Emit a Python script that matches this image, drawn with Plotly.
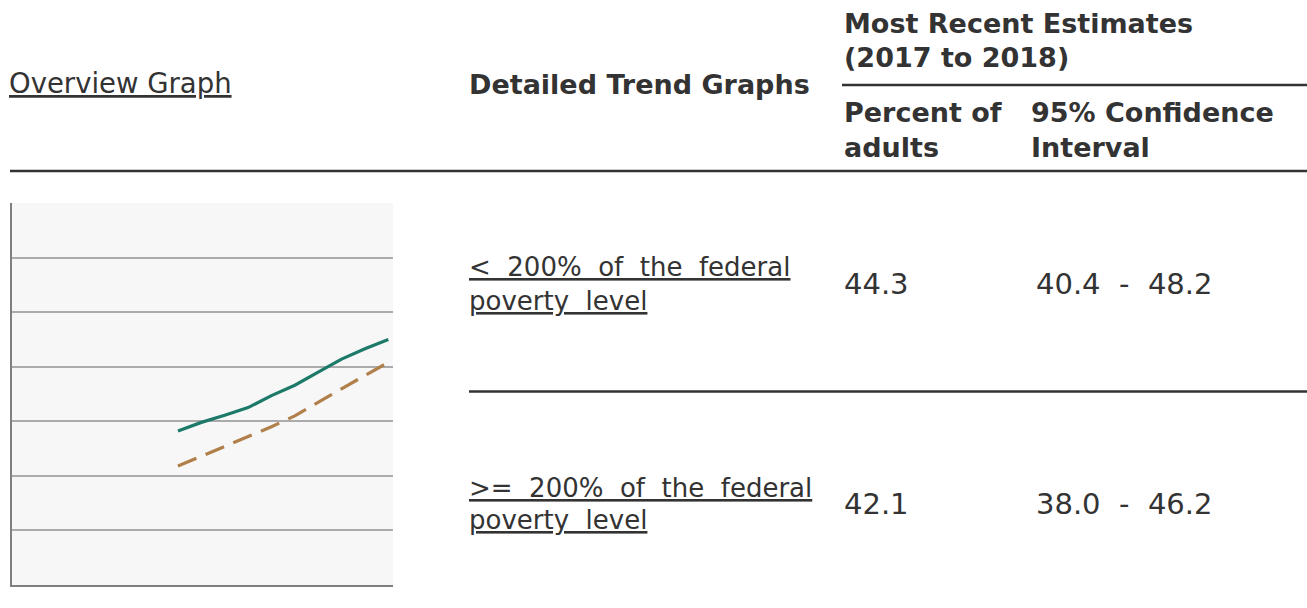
"""poverty-level trend table with a small overview line chart"""

import plotly.graph_objects as go

W, H = 1307, 608

# overview graph data (percent of adults, by year)
YEARS = [2009, 2010, 2011, 2012, 2013, 2014, 2015, 2016, 2017, 2018]
BELOW_200 = [28.2, 29.8, 31.1, 32.5, 34.7, 36.6, 39.0, 41.4, 43.3, 45.0]
ABOVE_200 = [21.8, 23.6, 25.5, 27.3, 29.0, 31.0, 33.5, 35.9, 38.4, 40.8]
GRID_LEVELS = [10, 20, 30, 40, 50, 60]

# table content
GROUPS = [["&lt;&nbsp;&nbsp;200%&nbsp;&nbsp;of&nbsp;&nbsp;the&nbsp;&nbsp;federal",
           "poverty&nbsp;&nbsp;level"],
          ["&gt;=&nbsp;&nbsp;200%&nbsp;&nbsp;of&nbsp;&nbsp;the&nbsp;&nbsp;federal",
           "poverty&nbsp;&nbsp;level"]]
PERCENTS = ["44.3", "42.1"]
CONF_INT = ["40.4&nbsp;&nbsp;-&nbsp;&nbsp;48.2", "38.0&nbsp;&nbsp;-&nbsp;&nbsp;46.2"]

TEXT = "#333333"
FONT = "Verdana, DejaVu Sans, sans-serif"


def px_x(x):
    return x / W


def px_y(y):
    return 1 - y / H


def label(fig, text, x, y, size, bold=False):
    """put a line of text with its left edge at x and centred on y (pixels)"""
    if bold:
        text = f"<b>{text}</b>"
    fig.add_annotation(x=px_x(x), y=px_y(y), xref="paper", yref="paper",
                       text=text, showarrow=False, xanchor="left",
                       yanchor="middle", borderpad=0,
                       font=dict(family=FONT, size=size, color=TEXT))


def hline(fig, x0, x1, y, width=2.5):
    fig.add_shape(type="line", xref="paper", yref="paper",
                  x0=px_x(x0), x1=px_x(x1), y0=px_y(y), y1=px_y(y),
                  line=dict(color=TEXT, width=width))


def main():
    fig = go.Figure()

    fig.add_trace(go.Scatter(x=YEARS, y=BELOW_200, mode="lines",
                             line=dict(color="#1d7a69", width=3.2)))
    fig.add_trace(go.Scatter(x=YEARS, y=ABOVE_200, mode="lines",
                             line=dict(color="#b07f4a", width=3.2,
                                       dash="20px,10px")))

    fig.update_layout(
        width=W, height=H,
        margin=dict(l=0, r=0, t=0, b=0),
        paper_bgcolor="white",
        plot_bgcolor="#f7f7f7",
        showlegend=False,
        hovermode=False,
        xaxis=dict(domain=[px_x(12), px_x(393)], range=[2001.9, 2018.2],
                   showgrid=False, zeroline=False, showticklabels=False,
                   ticks="", showline=True, linecolor="#7f7f7f",
                   linewidth=2),
        yaxis=dict(domain=[px_y(585), px_y(203)], range=[0, 70],
                   tickvals=GRID_LEVELS, showticklabels=False, ticks="",
                   gridcolor="#ababab", gridwidth=1.5, zeroline=False,
                   showline=True, linecolor="#7f7f7f", linewidth=2),
    )

    # header
    label(fig, "<u>Overview Graph</u>", 8, 82.7, 27.5)
    label(fig, "Detailed Trend Graphs", 468, 85, 27, bold=True)
    label(fig, "Most Recent Estimates", 843, 23.5, 27, bold=True)
    label(fig, "(2017 to 2018)", 843, 57.5, 27, bold=True)
    label(fig, "Percent of", 843, 112, 27, bold=True)
    label(fig, "adults", 843, 147, 27, bold=True)
    label(fig, "95% Confidence", 1030, 112, 27, bold=True)
    label(fig, "Interval", 1030, 147, 27, bold=True)

    hline(fig, 842, W, 85)
    hline(fig, 10, W, 171)
    hline(fig, 469, W, 391.5)

    # rows
    row_lines = [(266.5, 301), (487.5, 519.5)]
    row_values = [284, 504]
    for i, group in enumerate(GROUPS):
        for line_text, yc in zip(group, row_lines[i]):
            label(fig, f"<u>{line_text}</u>", 468, yc, 26)
        label(fig, PERCENTS[i], 843, row_values[i], 29)
        label(fig, CONF_INT[i], 1035, row_values[i], 29)

    # the page margin would push the figure 8px off the window corner
    fig.write_html("out.html", config={"displayModeBar": False},
                   post_script="document.body.style.margin = '0';")


if __name__ == "__main__":
    main()
